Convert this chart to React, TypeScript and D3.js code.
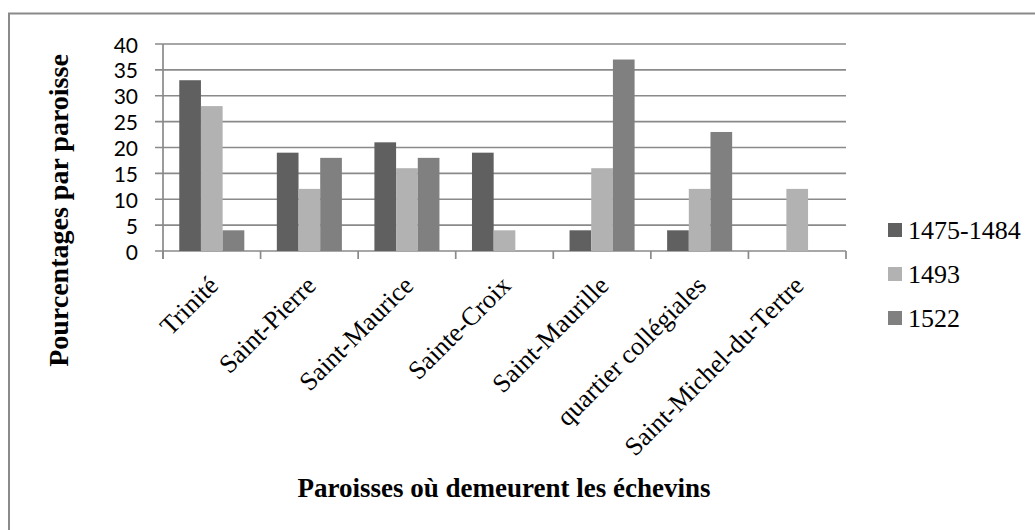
import React from "react";
import * as d3 from "d3";

const categories = [
  "Trinité",
  "Saint-Pierre",
  "Saint-Maurice",
  "Sainte-Croix",
  "Saint-Maurille",
  "quartier collégiales",
  "Saint-Michel-du-Tertre",
];
const seriesNames = ["1475-1484", "1493", "1522"];
const values1475 = [33, 19, 21, 19, 4, 4, 0];
const values1493 = [28, 12, 16, 4, 16, 12, 12];
const values1522 = [4, 18, 18, 0, 37, 23, 0];
const seriesValues = [values1475, values1493, values1522];
const seriesColors = ["#606060", "#b2b2b2", "#808080"];
const yTicks = [0, 5, 10, 15, 20, 25, 30, 35, 40];

const W = 1035;
const H = 530;
const plotLeft = 163;
const plotRight = 846;
const plotTop = 44;
const plotBottom = 251;

const serif = "'Liberation Serif', 'Times New Roman', serif";
const sans = "Lato, 'Open Sans', sans-serif";
const gridColor = "#8a8a8a";

export default function App() {
  const x0 = d3.scaleBand<string>().domain(categories).range([plotLeft, plotRight]).paddingInner(0).paddingOuter(0);
  const x1 = d3
    .scaleBand<string>()
    .domain(seriesNames)
    .range([0, x0.bandwidth()])
    .paddingInner(0)
    .paddingOuter(0.75);
  const y = d3.scaleLinear().domain([0, 40]).range([plotBottom, plotTop]);

  return (
    <svg
      width={W}
      height={H}
      style={{ position: "absolute", left: 0, top: 0, background: "#fff" }}
    >
      {/* chart border (top and left visible) */}
      <rect x={9} y={13.5} width={1100} height={600} fill="none" stroke={gridColor} strokeWidth={2} />

      {/* gridlines + y ticks */}
      {yTicks.map((t) => (
        <g key={t}>
          <line x1={plotLeft - 8} x2={plotRight} y1={y(t)} y2={y(t)} stroke={gridColor} strokeWidth={1.7} />
          <text
            x={138}
            y={y(t)}
            textAnchor="end"
            dominantBaseline="central"
            fontFamily={sans}
            fontSize={21}
            fill="#000"
          >
            {t}
          </text>
        </g>
      ))}

      {/* y axis line */}
      <line x1={plotLeft} x2={plotLeft} y1={plotTop} y2={plotBottom + 8} stroke={gridColor} strokeWidth={1.7} />

      {/* x category ticks */}
      {[...categories.map((c) => x0(c) as number), plotRight].map((xv, i) => (
        <line key={i} x1={xv} x2={xv} y1={plotBottom} y2={plotBottom + 8} stroke={gridColor} strokeWidth={1.7} />
      ))}

      {/* bars */}
      {categories.map((c, ci) => (
        <g key={c}>
          {seriesNames.map((s, si) => {
            const v = seriesValues[si][ci];
            if (!v) return null;
            return (
              <rect
                key={s}
                x={(x0(c) as number) + (x1(s) as number)}
                y={y(v)}
                width={x1.bandwidth()}
                height={y(0) - y(v)}
                fill={seriesColors[si]}
              />
            );
          })}
        </g>
      ))}

      {/* x category labels */}
      {categories.map((c) => {
        const cx = (x0(c) as number) + x0.bandwidth() / 2;
        return (
          <text
            key={c}
            transform={`translate(${cx + 8},${287}) rotate(-45)`}
            textAnchor="end"
            fontFamily={serif}
            fontSize={26}
            fill="#000"
          >
            {c}
          </text>
        );
      })}

      {/* axis titles */}
      <text
        transform={`translate(68,210.5) rotate(-90)`}
        textAnchor="middle"
        fontFamily={serif}
        fontWeight="bold"
        fontSize={28}
        fill="#000"
      >
        Pourcentages par paroisse
      </text>
      <text x={504} y={497} textAnchor="middle" fontFamily={serif} fontWeight="bold" fontSize={27} fill="#000">
        Paroisses où demeurent les échevins
      </text>

      {/* legend */}
      {seriesNames.map((s, i) => (
        <g key={s}>
          <rect x={888} y={223 + i * 44} width={14} height={14} fill={seriesColors[i]} />
          <text x={908} y={238.5 + i * 44} fontFamily={serif} fontSize={26} fill="#000">
            {s}
          </text>
        </g>
      ))}
    </svg>
  );
}
